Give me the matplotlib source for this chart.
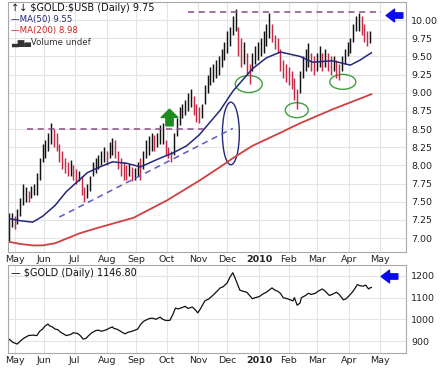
"""
Ratio or / obligations (style StockCharts) avec le cours de l'or en dessous.
"""

import numpy as np
import pandas as pd
import matplotlib
matplotlib.use("Agg")
from matplotlib import pyplot as plt
from matplotlib.patches import Ellipse
from matplotlib.path import Path

# --- donnees (index = jour ouvre depuis le 27/04/2009) ---
# barres du ratio $GOLD:$USB, une barre tous les 2 jours
barres_jour = np.arange(0, 260, 2)
barres_bas = [6.95, 7.15, 7.12, 7.20, 7.30, 7.45, 7.50, 7.50, 7.55, 7.60,
              7.60, 7.80, 8.05, 8.10, 8.20, 8.30, 8.25, 8.20, 8.05, 7.95,
              7.90, 7.85, 7.85, 7.80, 7.75, 7.78, 7.60, 7.50, 7.55, 7.65,
              7.85, 7.90, 7.95, 8.00, 8.05, 8.00, 8.10, 8.15, 8.10, 7.95,
              7.85, 7.80, 7.80, 7.85, 7.78, 7.80, 7.85, 7.80, 7.95, 8.10,
              8.15, 8.20, 8.20, 8.25, 8.30, 8.30, 8.15, 8.10, 8.05, 8.15,
              8.40, 8.55, 8.65, 8.70, 8.75, 8.80, 8.70, 8.60, 8.58, 8.65,
              8.85, 9.00, 9.10, 9.15, 9.20, 9.25, 9.35, 9.45, 9.55, 9.65,
              9.80, 9.85, 9.50, 9.35, 9.40, 9.25, 9.12, 9.30, 9.40, 9.45,
              9.50, 9.55, 9.65, 9.75, 9.70, 9.60, 9.55, 9.30, 9.20, 9.15,
              9.10, 9.05, 8.90, 8.77, 9.00, 9.20, 9.30, 9.35, 9.30, 9.25,
              9.30, 9.35, 9.30, 9.35, 9.30, 9.25, 9.30, 9.20, 9.17, 9.30,
              9.40, 9.50, 9.55, 9.70, 9.85, 9.85, 9.80, 9.70, 9.65, 9.68]
barres_haut = [7.35, 7.35, 7.30, 7.40, 7.55, 7.75, 7.70, 7.65, 7.72, 7.75,
               7.90, 8.10, 8.30, 8.35, 8.45, 8.58, 8.50, 8.45, 8.30, 8.20,
               8.10, 8.05, 8.08, 8.00, 7.95, 7.93, 7.85, 7.70, 7.75, 7.85,
               8.05, 8.10, 8.15, 8.20, 8.25, 8.20, 8.32, 8.38, 8.35, 8.20,
               8.10, 8.05, 8.00, 8.02, 7.98, 7.97, 8.05, 8.10, 8.20, 8.35,
               8.40, 8.45, 8.42, 8.45, 8.55, 8.58, 8.35, 8.25, 8.20, 8.45,
               8.65, 8.80, 8.85, 8.90, 9.00, 9.05, 8.95, 8.85, 8.80, 8.85,
               9.10, 9.25, 9.35, 9.40, 9.45, 9.50, 9.60, 9.70, 9.85, 9.90,
               10.05, 10.15, 9.90, 9.75, 9.70, 9.55, 9.40, 9.55, 9.65, 9.70,
               9.75, 9.85, 9.95, 10.10, 9.95, 9.80, 9.75, 9.60, 9.45, 9.40,
               9.35, 9.30, 9.20, 9.05, 9.30, 9.50, 9.60, 9.68, 9.55, 9.50,
               9.55, 9.65, 9.55, 9.60, 9.55, 9.50, 9.50, 9.45, 9.40, 9.50,
               9.60, 9.70, 9.75, 9.95, 10.05, 10.10, 10.05, 9.95, 9.85, 9.85]

# moyennes mobiles (lues par points)
ma50_jour = [0, 8, 17, 24, 33, 41, 56, 65, 74, 84, 94, 108, 117, 127, 136,
             151, 160, 174, 184, 194, 208, 217, 231, 244, 251, 259]
ma50_val = [7.27, 7.24, 7.22, 7.30, 7.45, 7.64, 7.90, 7.98, 8.05, 8.03, 7.98,
            8.10, 8.17, 8.27, 8.42, 8.76, 9.02, 9.33, 9.48, 9.56, 9.50, 9.42,
            9.44, 9.38, 9.45, 9.55]
ma200_jour = [0, 8, 17, 24, 33, 51, 65, 89, 113, 136, 151, 160, 174, 194,
              208, 231, 259]
ma200_val = [6.95, 6.92, 6.90, 6.90, 6.93, 7.07, 7.15, 7.28, 7.52, 7.79,
             7.98, 8.10, 8.27, 8.45, 8.58, 8.77, 8.98]

# cours de l'or
or_jour = [0, 3, 6, 9, 11, 14, 17, 20, 22, 24, 26, 28, 29, 31, 33, 35, 37,
           39, 41, 44, 46, 49, 51, 53, 55, 57, 59, 62, 64, 66, 69, 72, 74,
           75, 77, 79, 81, 83, 85, 88, 90, 92, 94, 96, 99, 101, 103, 105,
           108, 110, 112, 115, 117, 119, 121, 124, 126, 128, 131, 133, 135,
           137, 140, 143, 146, 148, 151, 153, 156, 158, 160, 161, 163, 165,
           167, 170, 172, 174, 176, 179, 181, 184, 186, 188, 190, 192, 194,
           196, 199, 201, 203, 204, 206, 208, 209, 212, 214, 216, 219, 221,
           224, 226, 229, 231, 234, 236, 239, 241, 244, 246, 249, 251, 253,
           255, 257, 258, 259]
or_val = [909, 893, 886, 905, 914, 925, 927, 925, 945, 955, 970, 978, 970,
          965, 955, 952, 940, 933, 925, 930, 938, 935, 925, 909, 912, 925,
          937, 948, 950, 945, 950, 960, 965, 958, 955, 948, 940, 933, 940,
          945, 950, 955, 975, 990, 1000, 1005, 1005, 1000, 1010, 1000, 995,
          995, 1020, 1052, 1048, 1055, 1060, 1050, 1057, 1045, 1030, 1050,
          1085, 1095, 1112, 1125, 1145, 1150, 1168, 1195, 1215, 1200, 1168,
          1135, 1130, 1125, 1110, 1095, 1100, 1105, 1115, 1125, 1135, 1145,
          1135, 1130, 1120, 1100, 1095, 1090, 1085, 1100, 1065, 1075, 1100,
          1110, 1120, 1115, 1120, 1130, 1140, 1130, 1110, 1115, 1125, 1115,
          1090, 1095, 1115, 1130, 1160, 1155, 1153, 1158, 1140, 1145, 1147]

mois = ['May', 'Jun', 'Jul', 'Aug', 'Sep', 'Oct', 'Nov', 'Dec',
        '2010', 'Feb', 'Mar', 'Apr', 'May']
ticks_ratio = [7.00, 7.25, 7.50, 7.75, 8.00, 8.25, 8.50, 8.75,
               9.00, 9.25, 9.50, 9.75, 10.00]
ticks_or = [900, 1000, 1100, 1200]

# --- styles ---
GRILLE = '#e4e4e4'
BORD = '#a8a8a8'
NOIR = '#111111'
ROUGE_BARRE = '#c42a45'
BLEU_MA = '#24287a'
ROUGE_MA = '#d04040'
VIOLET = '#8a4a8a'
BLEU_TIRET = '#5a5ac8'
VERT = '#3fa040'
BLEU_FLECHE = '#0a0af0'

# position des debuts de mois dans l'index des jours ouvres
jours = pd.bdate_range('2009-04-27', periods=300)
debuts = pd.date_range('2009-05-01', periods=13, freq='MS')
pos_mois = [int(np.searchsorted(jours, d)) for d in debuts]

fleche_haut = Path([(-0.22, -0.5), (0.22, -0.5), (0.22, 0.0), (0.5, 0.0),
                    (0.0, 0.5), (-0.5, 0.0), (-0.22, 0.0), (-0.22, -0.5)],
                   closed=True)
fleche_gauche = Path([(0.5, -0.16), (0.5, 0.16), (0.0, 0.16), (0.0, 0.38),
                      (-0.5, 0.0), (0.0, -0.38), (0.0, -0.16), (0.5, -0.16)],
                     closed=True)


def habillage(ax, ticks, fmt):
    ax.set_xlim(-0.7, 283.6)
    ax.set_yticks(ticks)
    ax.set_yticklabels([fmt.format(t) for t in ticks])
    ax.yaxis.tick_right()
    ax.set_xticks(pos_mois)
    ax.set_xticklabels(mois)
    for lab in ax.get_xticklabels():
        if lab.get_text() == '2010':
            lab.set_fontweight('bold')
    ax.tick_params(axis='both', length=0, labelsize=6.8, colors='#222222')
    ax.tick_params(axis='y', pad=4)
    ax.tick_params(axis='x', pad=2)
    ax.grid(True, color=GRILLE, lw=0.8)
    ax.set_axisbelow(True)
    for s in ax.spines.values():
        s.set_color(BORD)
        s.set_linewidth(0.8)


fig = plt.figure(figsize=(4.42, 3.69), dpi=100)
ax1 = fig.add_axes([0.018, 0.317, 0.900, 0.6775])
ax2 = fig.add_axes([0.018, 0.0434, 0.900, 0.2385])

# ---- panneau du haut ----
bas = np.array(barres_bas)
haut = np.array(barres_haut)
milieu = (bas + haut) / 2
couleurs = [NOIR] + [NOIR if milieu[i] >= milieu[i - 1] else ROUGE_BARRE
                     for i in range(1, len(milieu))]
ax1.vlines(barres_jour, bas, haut, colors=couleurs, lw=1.05)
ax1.plot(ma50_jour, ma50_val, color=BLEU_MA, lw=1.1)
ax1.plot(ma200_jour, ma200_val, color=ROUGE_MA, lw=1.3)

# annotations
ax1.plot([13, 140], [8.50, 8.50], color=VIOLET, lw=1.1, ls=(0, (4, 3)))
ax1.plot([128, 266], [10.11, 10.11], color=VIOLET, lw=1.1, ls=(0, (4, 3)))
ax1.plot([36, 160], [7.29, 8.51], color=BLEU_TIRET, lw=1.1, ls=(0, (4, 3)))
ax1.add_patch(Ellipse((158.6, 8.44), 12.1, 0.86, fill=False, ec=BLEU_MA, lw=1.0))
for cx, cy, w, h in [(171.4, 9.12, 19.3, 0.234), (205.7, 8.76, 16.4, 0.206),
                     (238.6, 9.15, 18.6, 0.206)]:
    ax1.add_patch(Ellipse((cx, cy), w, h, fill=False, ec=VERT, lw=1.0))
ax1.plot([114.3], [8.67], marker=fleche_haut, ms=12, color='#1e8c1e', ls='none')
ax1.plot([275], [10.07], marker=fleche_gauche, ms=12, color=BLEU_FLECHE, ls='none')

habillage(ax1, ticks_ratio, '{:.2f}')
ax1.set_ylim(6.809, 10.248)

# legende
ax1.text(0.008, 0.995, '\u2191\u2193 \\$GOLD:\\$USB (Daily) 9.75', transform=ax1.transAxes,
         fontsize=7, va='top', ha='left', color=NOIR)
ax1.text(0.008, 0.950, '\u2014MA(50) 9.55', transform=ax1.transAxes,
         fontsize=6.2, va='top', ha='left', color=BLEU_MA)
ax1.text(0.008, 0.903, '\u2014MA(200) 8.98', transform=ax1.transAxes,
         fontsize=6.2, va='top', ha='left', color='#cc2222')
ax1.text(0.008, 0.856, '\u2583\u2586\u2584Volume undef', transform=ax1.transAxes,
         fontsize=6.2, va='top', ha='left', color='#333333')

# ---- panneau du bas ----
ax2.plot(or_jour, or_val, color=NOIR, lw=0.9)
ax2.plot([271.8], [1200], marker=fleche_gauche, ms=12, color=BLEU_FLECHE, ls='none')
habillage(ax2, ticks_or, '{:.0f}')
ax2.set_ylim(844.7, 1250.8)
ax2.text(0.008, 0.97, '\u2014 \\$GOLD (Daily) 1146.80', transform=ax2.transAxes,
         fontsize=7, va='top', ha='left', color=NOIR)

fig.savefig('out.png', dpi=100)
